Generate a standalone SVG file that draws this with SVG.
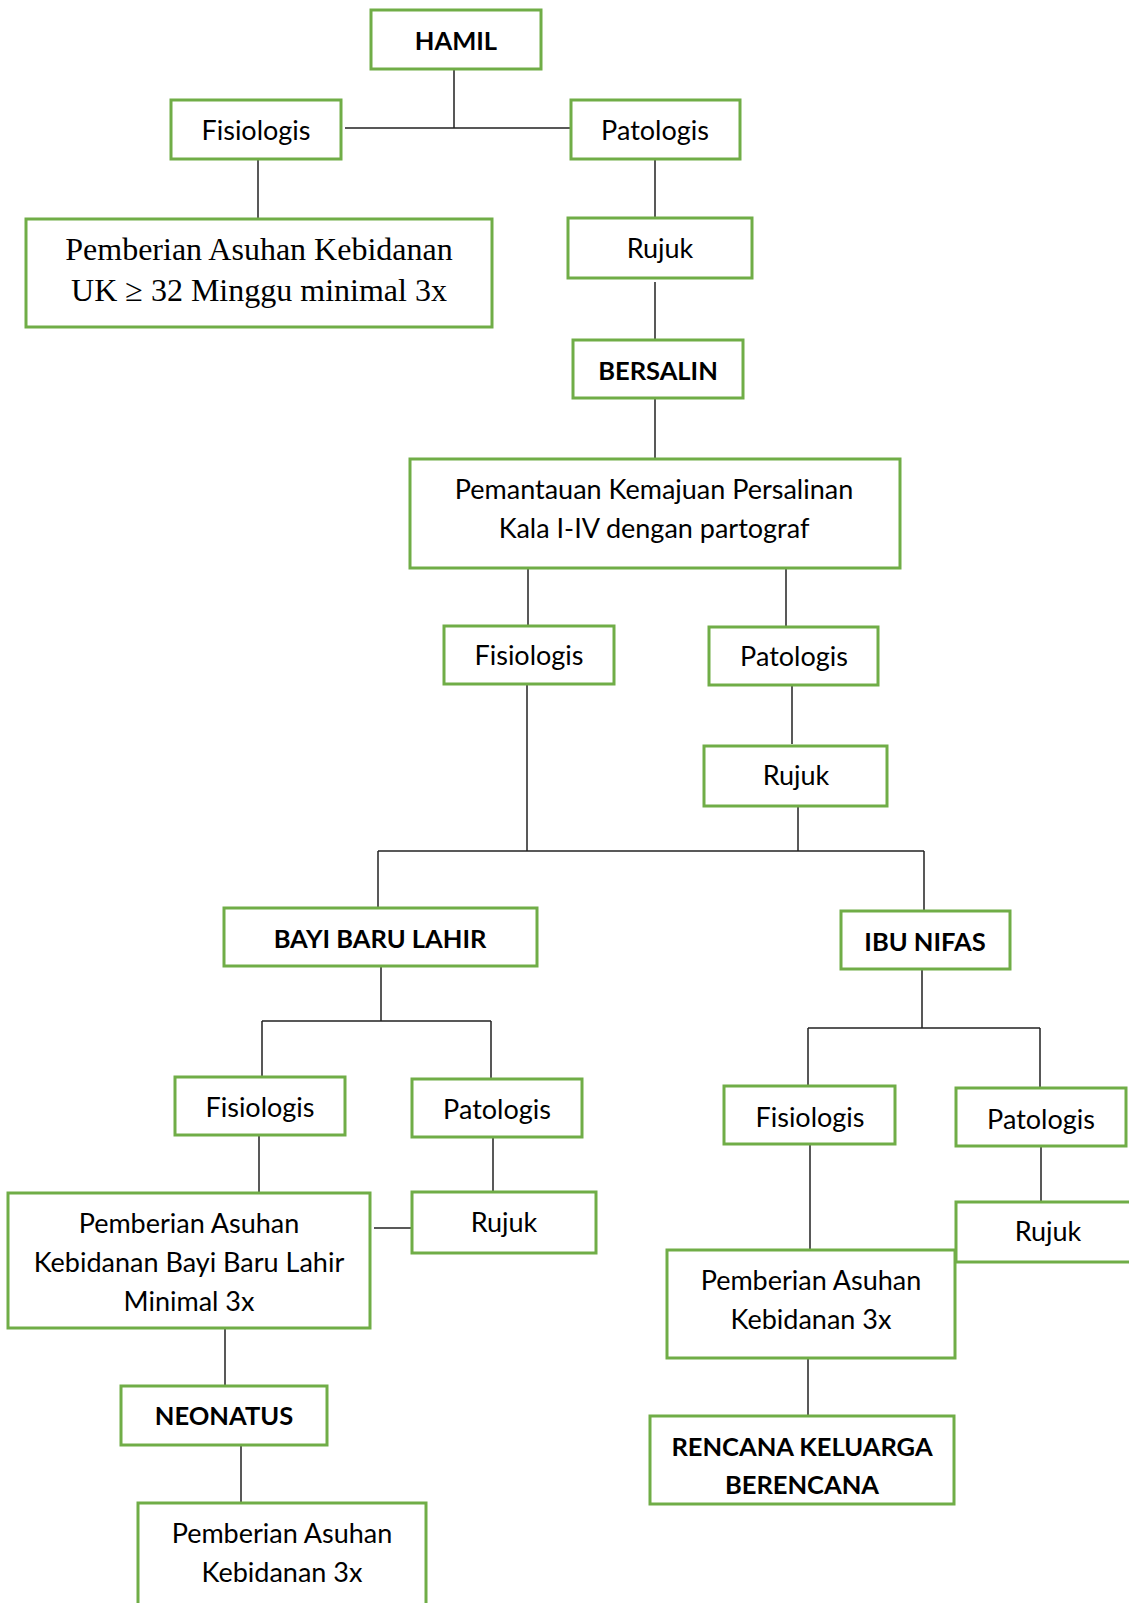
<svg xmlns="http://www.w3.org/2000/svg" width="1129" height="1603" viewBox="0 0 1129 1603">
<style>
.box{fill:#fff;stroke:#70AD47;stroke-width:3}
.t{font-family:Lato,"Liberation Sans",sans-serif;font-size:27px;text-anchor:middle;fill:#000}
.b{font-weight:bold;font-size:25.5px}
.s{font-family:"Liberation Serif",serif;font-size:32px;text-anchor:middle;fill:#000}
.c{stroke:#222;stroke-width:1.5;fill:none}
</style>
<rect width="1129" height="1603" fill="#fff"/>
<g id="connectors">
<path class="c" d="M454 69V128M345 128H571"/>
<path class="c" d="M258 159V219"/>
<path class="c" d="M655 159V218"/>
<path class="c" d="M655 282V340"/>
<path class="c" d="M655 398V459"/>
<path class="c" d="M528 568V626"/>
<path class="c" d="M786 568V627"/>
<path class="c" d="M792 685V744"/>
<path class="c" d="M527 684V851"/>
<path class="c" d="M798 806V851"/>
<path class="c" d="M378 851H924"/>
<path class="c" d="M378 851V908"/>
<path class="c" d="M924 851V911"/>
<path class="c" d="M381 966V1021M262 1021H491M262 1021V1077M491 1021V1079"/>
<path class="c" d="M259 1135V1193"/>
<path class="c" d="M493 1137V1192"/>
<path class="c" d="M374 1228H412"/>
<path class="c" d="M225 1328V1386"/>
<path class="c" d="M241 1445V1503"/>
<path class="c" d="M922 969V1028M808 1028H1040M808 1028V1086M1040 1028V1088"/>
<path class="c" d="M1041 1146V1202"/>
<path class="c" d="M810 1144V1250"/>
<path class="c" d="M808 1358V1416"/>
</g>
<g id="hamil"><rect class="box" x="371" y="10" width="170" height="59"/><text class="t b" x="456" y="50">HAMIL</text></g>
<g id="fisiologis1"><rect class="box" x="171" y="100" width="170" height="59"/><text class="t" x="256" y="140">Fisiologis</text></g>
<g id="patologis1"><rect class="box" x="571" y="100" width="169" height="59"/><text class="t" x="655" y="140">Patologis</text></g>
<g id="pemberian1"><rect class="box" x="26" y="219" width="466" height="108"/><text class="s" x="259" y="260">Pemberian Asuhan Kebidanan</text><text class="s" x="259" y="301">UK ≥ 32 Minggu minimal 3x</text></g>
<g id="rujuk1"><rect class="box" x="568" y="218" width="184" height="60"/><text class="t" x="660" y="258">Rujuk</text></g>
<g id="bersalin"><rect class="box" x="573" y="340" width="170" height="58"/><text class="t b" x="658" y="380">BERSALIN</text></g>
<g id="pemantauan"><rect class="box" x="410" y="459" width="490" height="109"/><text class="t" x="654" y="499">Pemantauan Kemajuan Persalinan</text><text class="t" x="654" y="538">Kala I-IV dengan partograf</text></g>
<g id="fisiologis2"><rect class="box" x="444" y="626" width="170" height="58"/><text class="t" x="529" y="665">Fisiologis</text></g>
<g id="patologis2"><rect class="box" x="709" y="627" width="169" height="58"/><text class="t" x="794" y="666">Patologis</text></g>
<g id="rujuk2"><rect class="box" x="704" y="746" width="183" height="60"/><text class="t" x="796" y="785">Rujuk</text></g>
<g id="bayi"><rect class="box" x="224" y="908" width="313" height="58"/><text class="t b" x="380" y="948">BAYI BARU LAHIR</text></g>
<g id="ibunifas"><rect class="box" x="841" y="911" width="169" height="58"/><text class="t b" x="925" y="951">IBU NIFAS</text></g>
<g id="fisiologis3"><rect class="box" x="175" y="1077" width="170" height="58"/><text class="t" x="260" y="1117">Fisiologis</text></g>
<g id="patologis3"><rect class="box" x="412" y="1079" width="170" height="58"/><text class="t" x="497" y="1119">Patologis</text></g>
<g id="pemberian2"><rect class="box" x="8" y="1193" width="362" height="135"/><text class="t" x="189" y="1233">Pemberian Asuhan</text><text class="t" x="189" y="1272">Kebidanan Bayi Baru Lahir</text><text class="t" x="189" y="1311">Minimal 3x</text></g>
<g id="rujuk3"><rect class="box" x="412" y="1192" width="184" height="61"/><text class="t" x="504" y="1232">Rujuk</text></g>
<g id="neonatus"><rect class="box" x="121" y="1386" width="206" height="59"/><text class="t b" x="224" y="1425">NEONATUS</text></g>
<g id="pemberian3"><rect class="box" x="138" y="1503" width="288" height="110"/><text class="t" x="282" y="1543">Pemberian Asuhan</text><text class="t" x="282" y="1582">Kebidanan 3x</text></g>
<g id="fisiologis4"><rect class="box" x="724" y="1086" width="171" height="58"/><text class="t" x="810" y="1127">Fisiologis</text></g>
<g id="patologis4"><rect class="box" x="956" y="1088" width="170" height="58"/><text class="t" x="1041" y="1129">Patologis</text></g>
<g id="rujuk4"><rect class="box" x="956" y="1202" width="180" height="60"/><text class="t" x="1048" y="1241">Rujuk</text></g>
<g id="pemberian4"><rect class="box" x="667" y="1250" width="288" height="108"/><text class="t" x="811" y="1290">Pemberian Asuhan</text><text class="t" x="811" y="1329">Kebidanan 3x</text></g>
<g id="rencana"><rect class="box" x="650" y="1416" width="304" height="88"/><text class="t b" x="802" y="1456">RENCANA KELUARGA</text><text class="t b" x="802" y="1494">BERENCANA</text></g>
</svg>
